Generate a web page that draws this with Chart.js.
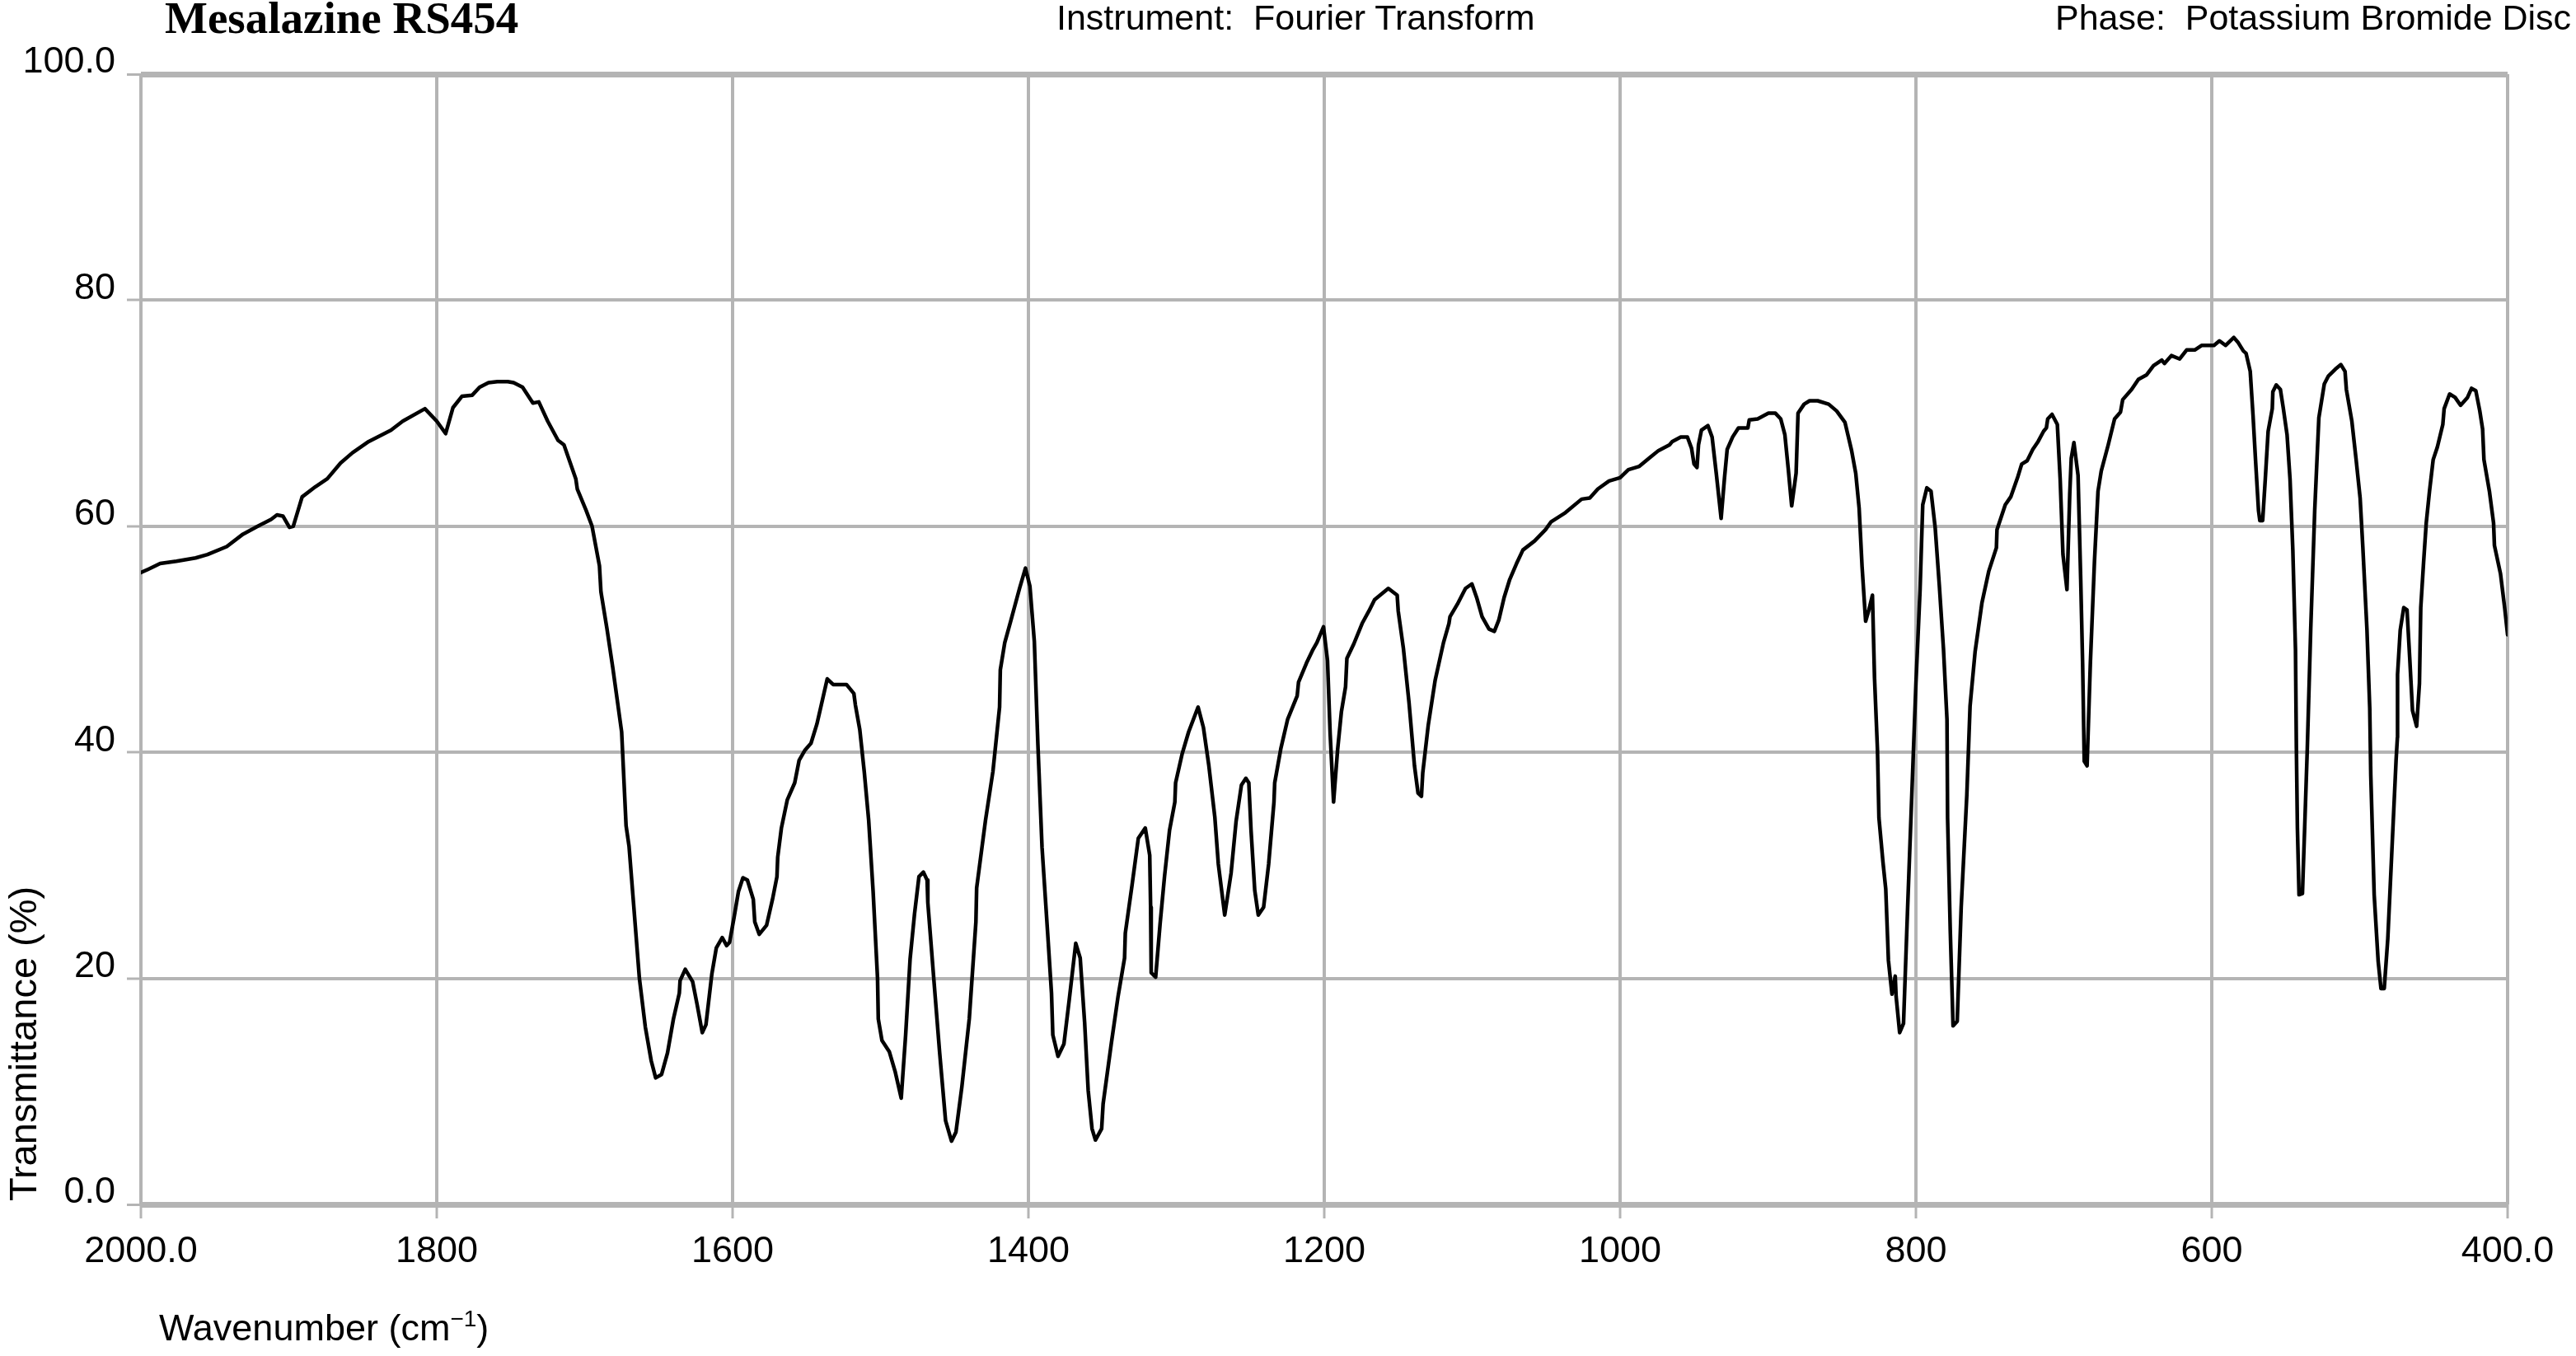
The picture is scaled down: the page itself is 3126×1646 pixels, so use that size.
<!DOCTYPE html>
<html>
<head>
<meta charset="utf-8">
<script src="https://cdn.jsdelivr.net/npm/chart.js@4.4.1/dist/chart.umd.min.js"></script>
<style>
  html, body { margin: 0; padding: 0; background: #fff; }
  #wrap { position: relative; width: 3126px; height: 1646px; overflow: hidden; background: #fff; }
  #chart { position: absolute; left: 0; top: 0; }
  .txt { position: absolute; white-space: pre; color: #000; line-height: 1; }
  .sans { font-family: "Liberation Sans", Arial, sans-serif; }
  #title { left: 200px; top: -6px; font-family: "Liberation Serif", "Times New Roman", serif; font-weight: bold; font-size: 55px; line-height: 55px; }
  #instr { left: 1282px; top: 0px; font-size: 43px; }
  #phase { left: 2494px; top: 0px; font-size: 43px; }
  #xtitle { left: 193px; top: 1589px; font-size: 45px; }
  #xtitle sup { font-size: 28px; vertical-align: 17px; line-height: 0; }
  #ytitle { left: 4px; top: 1458px; font-size: 47px; line-height: 47px; transform-origin: 0 0; transform: rotate(-90deg); }
</style>
</head>
<body>
<div id="wrap">
  <canvas id="chart" width="3126" height="1646"></canvas>
  <div id="title" class="txt">Mesalazine RS454</div>
  <div id="instr" class="txt sans">Instrument:  Fourier Transform</div>
  <div id="phase" class="txt sans">Phase:  Potassium Bromide Disc</div>
  <div id="xtitle" class="txt sans">Wavenumber (cm<sup>−1</sup>)</div>
  <div id="ytitle" class="txt sans">Transmittance (%)</div>
</div>
<script>
// ---- Data ----
const wavenumbers = [
  2000,1995,1987,1976,1963,1955,1942,1931,1921,1912,1908,1904,1899.6,1897,1891,1882,1874,1865,1857,1846,
  1831,1823,1808,1800,1794,1789,1783,1776,1771,1765,1759,1752,1748,1742,1735,1731,1725,1718,1714,1706,
  1705,1699,1695,1690,1689,1685,1681,1675,1672,1670,1667,1663,1659,1655,1652,1648,1644,1640,1636,1635.5,
  1632,1627,1624,1620.5,1618,1614,1611,1607,1604,1602,1599,1596,1593,1590,1586,1585,1582,1577,1573,1570,
  1569.5,1567,1563,1558,1555,1551,1547,1543,1540,1536,1532,1523,1518,1517,1514,1511,1508,1505,1502,1501.5,
  1499,1494,1490,1486,1483,1480,1477,1474,1471,1468.5,1468,1464,1460,1456,1452,1449,1445,1440,1435.5,1435,
  1429,1424,1419.5,1419,1416,1412,1406,1402,1399,1396,1393.6,1390.8,1387,1384.4,1383.5,1380,1376,1372.5,1368,1365,
  1362,1359.6,1357,1354.7,1350.5,1349.5,1344,1339.4,1335,1334.5,1330,1325.7,1321,1318,1317.4,1317,1314,1311,1308,1304.6,
  1301,1300.5,1296,1291.7,1285.3,1281.7,1278,1274,1271.6,1267.3,1263,1259.6,1256,1253,1251,1249.5,1247,1244.6,1241,1237.6,
  1234,1233.5,1229.4,1224.8,1218.3,1217.4,1212,1208,1205,1200.5,1197.8,1196,1193.7,1191,1188.4,1185.6,1184.7,1180,1174.4,1169.8,
  1166,1156.7,1150.7,1150,1146.5,1142.7,1139,1136.6,1134.3,1133.4,1129.7,1125,1119.4,1115.7,1115,1110,1104.5,1100.2,1097,1093.3,
  1088.6,1085,1082,1078.4,1074.6,1070,1065.7,1057.8,1050.4,1046.6,1037,1026,1020.5,1015,1007.5,1000,994.4,987,979.6,974,
  966.6,964.7,959,954.5,951.7,950,948,947,945,940.6,937.8,935,931.7,929.4,927.6,923.9,920,913.6,912.7,907,
  899.7,895,891.4,888.6,886.4,884,881,879.7,875.6,871.9,866.4,859,853.6,848,846,843.5,840.7,838.4,836.4,834,
  831.8,829.4,828,826,825,822.3,820.4,818.6,816.2,814,813.4,811,808.4,805.6,802.8,800,797.2,795.4,792.6,789.8,
  787,784.2,781.4,779,778.6,776.8,774.9,772.1,769.4,765.6,763.4,760,755.4,750.8,745.6,745.2,739.6,735.9,731.3,728.5,
  724.8,721,717.4,713.7,711.8,710.9,708,704.4,702.5,700.6,697.9,696,695,693.2,690.4,688.6,687.3,686.2,684.3,682.1,
  679.3,676.9,674.7,670,665.7,661.7,660.2,654.2,649.6,644,639.4,633.8,632,627.3,621.7,617,611.5,606.9,598.5,594.8,
  590.7,585.1,582.4,578.6,576.8,574,572.1,570.3,568.4,567.5,565.6,563.8,561.9,559.1,558.7,556.4,553.6,551.7,549.1,547.1,
  545.2,543.4,542.8,542.1,541,538.7,537.2,535.4,533.1,530.4,527.6,523.9,521.1,516.4,512.7,509.9,509,505.3,502.5,499.7,
  497.9,495.1,493.2,492.5,490.2,487.5,485.6,483.4,481,478.2,475.4,474.5,474.4,472.6,470.2,468,466.2,464.3,461.5,459.6,
  458.7,456.8,455,452.8,450.3,447.5,443.8,442.9,439.2,435.5,431.8,427.1,424.4,421.5,418.8,416.9,416,412.3,409.5,408.9,
  404.8,402,400
];
const transmittance = [
  55.9,56.2,56.7,56.9,57.2,57.5,58.2,59.3,60.0,60.6,61.0,60.9,59.9,60.0,62.6,63.5,64.2,65.6,66.5,67.5,
  68.5,69.3,70.4,69.3,68.2,70.5,71.5,71.6,72.3,72.7,72.8,72.8,72.7,72.3,70.9,71.0,69.3,67.6,67.2,64.2,
  63.3,61.4,60.0,56.5,54.2,51.0,47.5,41.8,33.5,31.7,26.7,20.0,15.7,12.7,11.2,11.5,13.4,16.4,18.7,19.8,
  20.8,19.7,17.7,15.2,15.9,20.4,22.7,23.6,22.9,23.2,25.4,27.7,28.9,28.7,27.0,25.0,23.9,24.7,27.0,29.0,
  30.7,33.3,35.8,37.3,39.3,40.2,40.8,42.5,44.2,46.5,46.0,46.0,45.2,44.2,42.0,38.3,34.0,27.7,20.0,16.4,
  14.5,13.5,11.7,9.4,15.0,21.7,25.7,29.0,29.4,28.7,26.7,20.0,13.4,7.4,5.6,6.4,10.4,16.4,25.0,28.0,
  34.0,38.3,44.0,47.3,49.7,51.6,54.5,56.3,54.7,49.8,40.7,31.6,24.0,18.7,15.0,13.1,14.2,18.0,23.1,21.8,
  16.1,10.1,6.7,5.7,6.7,8.9,14.2,18.4,21.8,24.0,28.2,32.4,33.3,30.9,26.3,20.5,20.1,24.8,29.0,33.1,
  35.6,37.3,39.9,41.8,44.0,42.2,38.8,34.3,30.1,25.6,29.3,33.9,37.1,37.7,37.3,33.1,27.8,25.6,26.3,30.1,
  35.6,37.3,40.3,42.9,45.0,46.2,47.9,49.0,49.7,51.1,48.1,41.6,35.6,40.2,43.6,45.8,48.3,49.6,51.4,52.5,
  53.5,54.5,53.9,52.5,49.2,44.4,38.8,36.4,36.1,38.2,42.4,46.4,49.7,51.4,52.0,53.1,54.5,54.9,53.7,52.0,
  50.9,50.7,51.7,53.7,55.3,56.7,57.9,58.7,59.7,60.4,61.2,62.4,62.5,63.3,64.0,64.3,65.0,65.3,66.1,66.7,
  67.2,67.5,67.9,67.9,66.9,65.5,65.2,67.2,68.5,68.9,67.9,64.7,60.7,64.3,66.8,67.9,68.7,68.7,69.4,69.5,
  70.0,70.0,69.5,68.1,65.2,61.8,64.7,70.0,70.8,71.1,71.1,70.8,70.2,69.2,68.1,66.7,64.7,61.6,56.4,51.6,
  52.6,53.9,46.6,40.2,34.2,30.3,27.9,21.6,18.6,20.2,18.4,15.2,16.0,26.3,36.2,46.1,54.4,61.9,63.4,63.1,
  59.9,54.8,49.2,42.9,34.2,24.3,15.8,16.2,26.3,36.2,44.1,48.9,53.2,56.0,58.1,59.7,61.9,62.6,64.3,65.5,
  65.8,66.8,67.5,68.4,68.7,69.5,69.9,69.0,64.2,57.5,54.4,62.9,66.0,67.4,64.5,55.3,47.8,39.2,38.8,47.8,
  56.9,63.1,64.9,67.2,69.5,70.1,71.2,72.1,73.0,73.4,74.2,74.7,74.4,75.1,74.8,75.6,75.6,76.0,76.0,76.4,
  76.0,76.7,76.3,75.5,75.3,73.7,69.8,65.6,61.4,60.5,60.5,64.2,68.4,70.4,71.9,72.5,72.1,70.5,68.1,64.2,
  57.9,49.1,40.4,33.3,27.4,27.5,33.3,40.4,50.9,61.4,69.6,72.6,73.3,73.9,74.3,73.7,72.1,69.3,66.0,62.5,
  58.2,50.9,43.9,38.0,27.4,21.5,19.1,19.1,23.5,31.4,39.3,41.3,46.9,50.8,52.8,52.6,48.4,43.7,42.3,46.1,
  52.8,56.8,60.3,63.1,65.9,67.0,69.0,70.4,71.7,71.4,70.7,71.4,72.2,72.0,70.2,68.6,65.9,63.1,60.3,58.3,
  55.8,52.8,50.4
];
const xTickValues = [2000, 1800, 1600, 1400, 1200, 1000, 800, 600, 400];
const xTickLabels = ["2000.0", "1800", "1600", "1400", "1200", "1000", "800", "600", "400.0"];
const yTickValues = [0, 20, 40, 60, 80, 100];
const yTickLabels = ["0.0", "20", "40", "60", "80", "100.0"];

const GRID = '#b4b4b4';
const points = wavenumbers.map((w, i) => ({ x: w, y: transmittance[i] }));

new Chart(document.getElementById('chart'), {
  type: 'line',
  data: {
    datasets: [{
      data: points,
      borderColor: '#000',
      borderWidth: 4.5,
      pointRadius: 0,
      tension: 0,
      fill: false,
      borderJoinStyle: 'round',
      borderCapStyle: 'round'
    }]
  },
  options: {
    responsive: false,
    devicePixelRatio: 1,
    animation: false,
    events: [],
    layout: { padding: { left: 0, right: 83, top: 90, bottom: 0 } },
    plugins: { legend: { display: false }, tooltip: { enabled: false }, title: { display: false } },
    scales: {
      x: {
        type: 'linear',
        reverse: true,
        min: 400,
        max: 2000,
        afterBuildTicks: (axis) => { axis.ticks = xTickValues.map(v => ({ value: v })); },
        afterFit: (axis) => { axis.height = 184; },
        border: { display: false },
        grid: { color: GRID, lineWidth: 4, drawTicks: true, tickLength: 17, tickColor: GRID, tickWidth: 3 },
        ticks: {
          color: '#000',
          padding: 14,
          maxRotation: 0,
          autoSkip: false,
          font: { family: '"Liberation Sans", Arial, sans-serif', size: 45 },
          callback: (v) => { const i = xTickValues.indexOf(v); return i >= 0 ? xTickLabels[i] : ''; }
        }
      },
      y: {
        type: 'linear',
        min: 0,
        max: 100,
        afterBuildTicks: (axis) => { axis.ticks = yTickValues.map(v => ({ value: v })); },
        afterFit: (axis) => { axis.width = 171; },
        border: { display: false },
        grid: {
          color: GRID,
          lineWidth: (ctx) => (ctx.tick && (ctx.tick.value === 0 || ctx.tick.value === 100)) ? 7 : 4,
          drawTicks: true, tickLength: 17, tickColor: GRID, tickWidth: 3
        },
        ticks: {
          color: '#000',
          padding: 14,
          labelOffset: -14,
          autoSkip: false,
          font: { family: '"Liberation Sans", Arial, sans-serif', size: 45 },
          callback: (v) => { const i = yTickValues.indexOf(v); return i >= 0 ? yTickLabels[i] : ''; }
        }
      }
    }
  }
});
</script>
</body>
</html>
